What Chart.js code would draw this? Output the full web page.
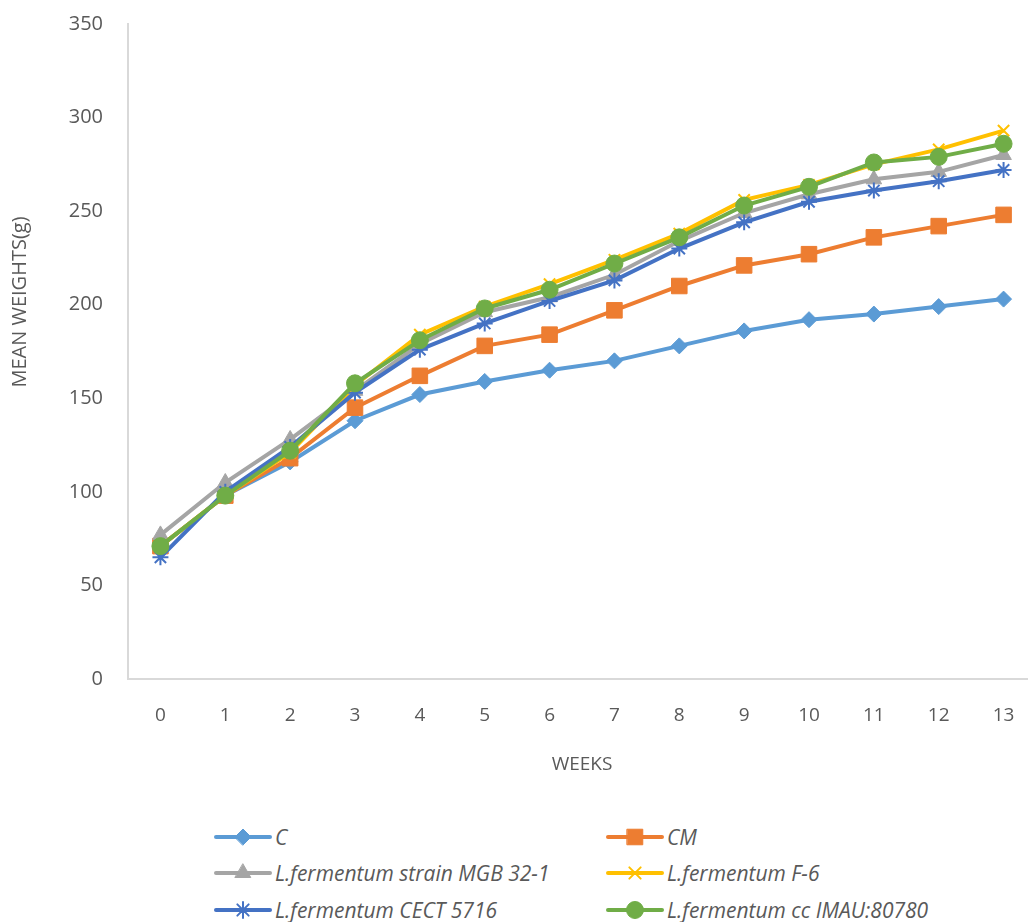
<!DOCTYPE html>
<html>
<head>
<meta charset="utf-8">
<script src="https://cdn.jsdelivr.net/npm/chart.js@4/dist/chart.umd.min.js"></script>
<style>
    html, body {
        margin: 0;
        padding: 0;
        width: 1028px;
        height: 922px;
        overflow: hidden;
        background: #ffffff;
    }
    #wrap {
        position: absolute;
        left: 0;
        top: 0;
        width: 1048px;
        height: 790px;
    }
    .legend-item {
        position: absolute;
        height: 24px;
        display: flex;
        align-items: center;
        font-family: "Open Sans", sans-serif;
        font-style: italic;
        font-size: 21px;
        color: #595959;
        white-space: nowrap;
    }
    .legend-item canvas {
        margin-right: 2px;
    }
</style>
</head>
<body>
<div id="wrap"><canvas id="chart" width="1048" height="790"></canvas></div>
<div id="legend"></div>
<script>
const weeks = ["0", "1", "2", "3", "4", "5", "6", "7", "8", "9", "10", "11", "12", "13"]

const seriesNames = [
    "C",
    "CM",
    "L.fermentum strain MGB 32-1",
    "L.fermentum F-6",
    "L.fermentum CECT 5716",
    "L.fermentum cc IMAU:80780",
]

const valuesC = [71, 98, 116, 138, 152, 159, 165, 170, 178, 186, 192, 195, 199, 203]
const valuesCM = [71, 98, 118, 145, 162, 178, 184, 197, 210, 221, 227, 236, 242, 248]
const valuesMGB = [77, 105, 128, 154, 179, 196, 204, 216, 234, 249, 259, 267, 271, 280]
const valuesF6 = [71, 98, 121, 157, 184, 199, 211, 224, 238, 256, 264, 275, 283, 293]
const valuesCECT = [65, 100, 124, 153, 176, 190, 202, 213, 230, 244, 255, 261, 266, 272]
const valuesIMAU = [71, 98, 122, 158, 181, 198, 208, 222, 236, 253, 263, 276, 279, 286]

const yTicks = [0, 50, 100, 150, 200, 250, 300, 350]

const colors = ["#5B9BD5", "#ED7D31", "#A5A5A5", "#FFC000", "#4472C4", "#70AD47"]
const markers = [
    { style: "rectRot", radius: 8, border: 1 },
    { style: "rect", radius: 11, border: 1 },
    { style: "triangle", radius: 9, border: 1 },
    { style: "crossRot", radius: 8, border: 2 },
    { style: "star", radius: 8, border: 2 },
    { style: "circle", radius: 8.5, border: 1 },
]

const allValues = [valuesC, valuesCM, valuesMGB, valuesF6, valuesCECT, valuesIMAU]
const textColor = "#595959"

Chart.defaults.font.family = "'Open Sans', sans-serif"
Chart.defaults.color = textColor

const datasets = allValues.map((values, i) => {
    return {
        label: seriesNames[i],
        data: values,
        borderColor: colors[i],
        backgroundColor: colors[i],
        borderWidth: 4,
        pointStyle: markers[i].style,
        pointRadius: markers[i].radius,
        pointHoverRadius: markers[i].radius,
        pointBorderWidth: markers[i].border,
        pointBackgroundColor: colors[i],
        pointBorderColor: colors[i],
        tension: 0,
        order: allValues.length - i,
    }
})

// y title sits a bit above the middle of the axis, as in the original
const yTitlePlugin = {
    id: "yTitle",
    afterDraw: (chart) => {
        const ctx = chart.ctx
        ctx.save()
        ctx.translate(20, 302)
        ctx.rotate(-Math.PI / 2)
        ctx.font = "20px 'Open Sans', sans-serif"
        ctx.fillStyle = textColor
        ctx.textAlign = "center"
        ctx.textBaseline = "middle"
        ctx.fillText("MEAN WEIGHTS(g)", 0, 0)
        ctx.restore()
    },
}

const config = {
    type: "line",
    data: {
        labels: weeks,
        datasets: datasets,
    },
    options: {
        responsive: false,
        animation: false,
        devicePixelRatio: 1,
        layout: {
            padding: { top: 24, right: 5, left: 0, bottom: 0 },
        },
        plugins: {
            legend: { display: false },
            tooltip: { enabled: false },
        },
        scales: {
            x: {
                offset: true,
                afterFit: (scale) => {
                    scale.height = 111
                    scale.paddingLeft = 0
                    scale.paddingRight = 0
                },
                grid: { display: false, drawTicks: false },
                border: { display: true, color: "#D9D9D9", width: 2 },
                ticks: {
                    padding: 25,
                    maxRotation: 0,
                    font: { size: 19 },
                    color: textColor,
                },
                title: {
                    display: true,
                    text: "WEEKS",
                    font: { size: 19 },
                    color: textColor,
                    padding: { top: 0, bottom: 14 },
                },
            },
            y: {
                min: yTicks[0],
                max: yTicks[yTicks.length - 1],
                afterFit: (scale) => {
                    scale.width = 128
                    scale.paddingTop = 0
                    scale.paddingBottom = 0
                },
                afterBuildTicks: (scale) => {
                    scale.ticks = yTicks.map((v) => ({ value: v }))
                },
                grid: { display: false, drawTicks: false },
                border: { display: true, color: "#D9D9D9", width: 2 },
                ticks: {
                    padding: 25,
                    font: { size: 20 },
                    color: textColor,
                },
            },
        },
    },
    plugins: [yTitlePlugin],
}

const chart = new Chart(document.getElementById("chart"), config)

// html legend, two columns
const legendCols = [213, 605]
const legendRows = [837, 873, 910]

const drawMarker = (ctx, i, x, y) => {
    ctx.fillStyle = colors[i]
    ctx.strokeStyle = colors[i]
    ctx.lineWidth = markers[i].border
    if (Chart.helpers && Chart.helpers.drawPoint) {
        Chart.helpers.drawPoint(
            ctx,
            {
                pointStyle: markers[i].style,
                radius: markers[i].radius,
                borderWidth: markers[i].border,
                rotation: 0,
            },
            x,
            y
        )
    } else {
        ctx.beginPath()
        ctx.arc(x, y, markers[i].radius, 0, Math.PI * 2)
        ctx.fill()
    }
}

const legend = document.getElementById("legend")
seriesNames.forEach((name, i) => {
    const item = document.createElement("div")
    item.className = "legend-item"
    item.style.left = legendCols[i % 2] + "px"
    item.style.top = legendRows[Math.floor(i / 2)] - 12 + "px"

    const c = document.createElement("canvas")
    c.width = 60
    c.height = 24
    const ctx = c.getContext("2d")
    ctx.strokeStyle = colors[i]
    ctx.lineWidth = 4
    ctx.lineCap = "round"
    ctx.beginPath()
    ctx.moveTo(3, 12)
    ctx.lineTo(57, 12)
    ctx.stroke()
    drawMarker(ctx, i, 30, 12)

    const span = document.createElement("span")
    span.textContent = name

    item.appendChild(c)
    item.appendChild(span)
    legend.appendChild(item)
})
</script>
</body>
</html>
